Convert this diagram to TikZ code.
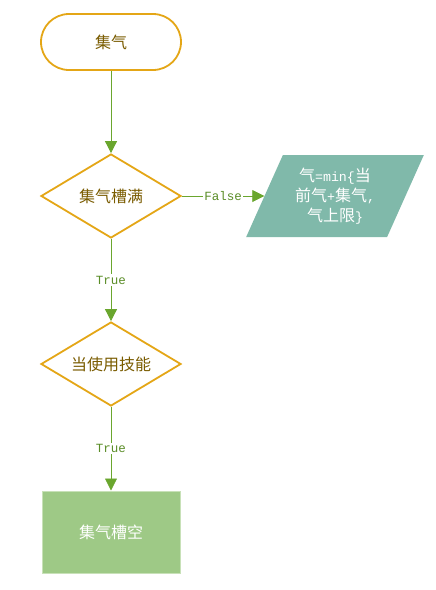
\documentclass[tikz,border=0pt]{standalone}
\usepackage{fontspec}
\setmainfont{Noto Sans CJK SC}
\setmonofont{Liberation Mono}
\usetikzlibrary{shapes.geometric,arrows.meta}

\definecolor{edgeorange}{RGB}{228,166,22}
\definecolor{textbrown}{RGB}{122,92,0}
\definecolor{linegreen}{RGB}{106,166,46}
\definecolor{ioteal}{RGB}{128,185,170}
\definecolor{procgreen}{RGB}{158,201,134}
\definecolor{procedge}{RGB}{200,225,184}

\newcommand{\asc}[1]{{\fontsize{13.3}{20}\ttfamily #1}}

\begin{document}
\begin{tikzpicture}[x=1pt,y=-1pt]

        % Styles
        \tikzstyle{terminal}=[draw=edgeorange,line width=1.8pt,fill=white,rounded corners=28pt,minimum width=140pt,minimum height=56pt,text=textbrown,font=\fontsize{16}{20}\selectfont]
        \tikzstyle{decision}=[draw=edgeorange,line width=1.8pt,fill=white,diamond,aspect=1.667,inner sep=0pt,minimum width=140pt,minimum height=84pt,text=textbrown,font=\fontsize{16}{20}\selectfont]
        \tikzstyle{io}=[fill=ioteal,trapezium,trapezium left angle=63.4,trapezium right angle=116.6,trapezium stretches=true,inner sep=0pt,minimum width=178pt,minimum height=82pt,text=white,align=center,font=\fontsize{16}{20}\selectfont]
        \tikzstyle{process}=[draw=procedge,line width=1pt,fill=procgreen,minimum width=138pt,minimum height=82pt,text=white,font=\fontsize{16}{20}\selectfont]
        \tikzstyle{flowline}=[draw=linegreen,line width=0.8pt,-{Triangle[length=12pt,width=12pt]}]
        \tikzstyle{branch text}=[fill=white,text=linegreen!85!black,inner sep=1.5pt,font=\fontsize{12.5}{14}\ttfamily]
        \useasboundingbox (0,0) rectangle (436,590);
        %The graphic
        %nodes
        \node[terminal] (collect) at (111,42) {集气};
        \node[decision] (full) at (111,196) {集气槽满};
        \node[io] (update) at (335,196) {气\asc{=min\{}当\\前气\asc{+}集气\asc{,}\\气上限\asc{\}}};
        \node[decision] (useskill) at (111,364) {当使用技能};
        \node[process] (empty) at (111,532) {集气槽空};
        %connectors
        \draw[flowline] (collect) -- (full);
        \draw[flowline] (full) -- node[branch text] {False} (update);
        \draw[flowline] (full) -- node[branch text] {True} (useskill);
        \draw[flowline] (useskill) -- node[branch text] {True} (empty);
\end{tikzpicture}
\end{document}
